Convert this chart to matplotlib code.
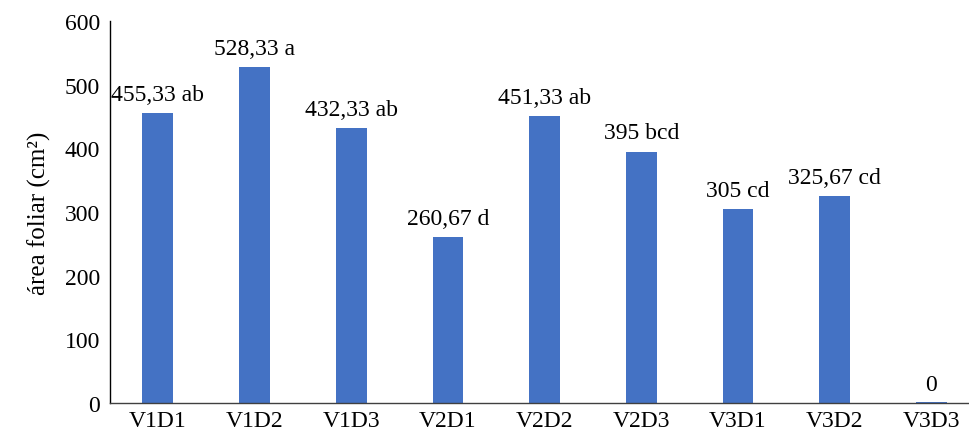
import numpy as np
import matplotlib.pyplot as plt

categories = ['V1D1', 'V1D2', 'V1D3', 'V2D1', 'V2D2', 'V2D3', 'V3D1', 'V3D2', 'V3D3']
values = [455.33, 528.33, 432.33, 260.67, 451.33, 395, 305, 325.67, 0]
labels = ['455,33 ab', '528,33 a', '432,33 ab', '260,67 d', '451,33 ab',
          '395 bcd', '305 cd', '325,67 cd', '0']
yticks = [0, 100, 200, 300, 400, 500, 600]

plt.rcParams['font.family'] = ['Liberation Serif', 'DejaVu Serif']

fig = plt.figure(figsize=(9.7, 4.35), dpi=100)
ax = fig.add_axes([0.113, 0.071, 0.897, 0.878])

x = np.arange(len(categories))
ax.bar(x, values, width=0.32, color='#4472C4', zorder=2)
# thin line for the zero bar
ax.bar(x[values.index(0)], 1.5, width=0.32, color='#4472C4', zorder=2)

for xi, v, lab in zip(x, values, labels):
    ax.text(xi, v + 13, lab, ha='center', va='bottom', fontsize=17)

ax.set_xlim(-0.5, len(categories) - 0.5)
ax.set_ylim(0, 600)
ax.set_yticks(yticks)
ax.set_xticks(x)
ax.set_xticklabels(categories)
ax.tick_params(axis='both', length=0, labelsize=17, pad=7)
ax.tick_params(axis='x', pad=5)
ax.set_ylabel('área foliar (cm²)', fontsize=18, labelpad=10)

for s in ['top', 'right']:
    ax.spines[s].set_visible(False)
ax.spines['left'].set_color('#000000')
ax.spines['bottom'].set_color('#404040')
ax.spines['left'].set_linewidth(1.0)
ax.spines['bottom'].set_linewidth(1.0)

fig.savefig('out.png', dpi=100)
